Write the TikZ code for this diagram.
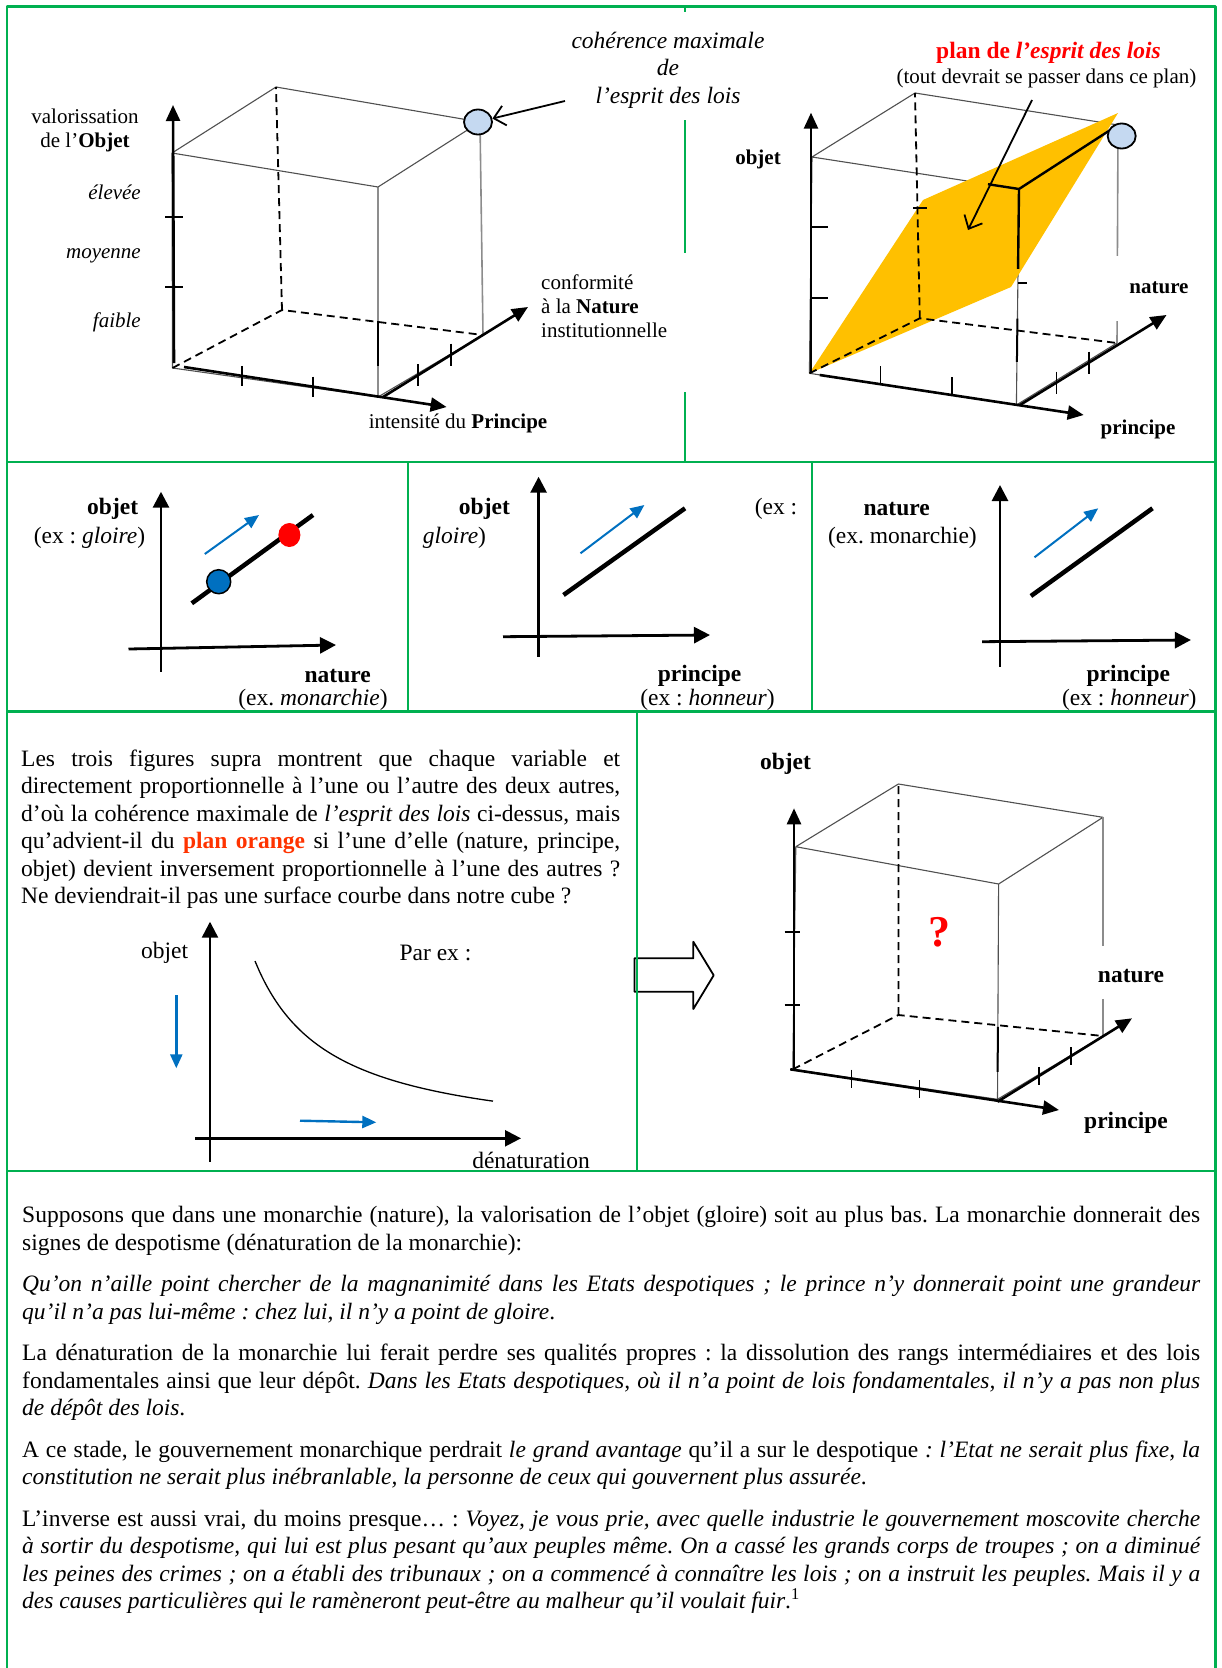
\documentclass[tikz,border=0pt]{standalone}
\usepackage{fontspec}
\setmainfont{Liberation Serif}
\usetikzlibrary{arrows.meta,calc,shapes.geometric}
\definecolor{framegreen}{HTML}{00B050}
\definecolor{planorange}{HTML}{FFC000}
\definecolor{pointblue}{HTML}{0070C0}
\definecolor{pointlight}{HTML}{C5D9F1}
\definecolor{orangered}{HTML}{FF3300}
\definecolor{edgegray}{HTML}{505050}
\newcommand\lblfont{\fontsize{21}{24}\selectfont}
\newcommand\txtfont{\fontsize{23.5}{27.5}\selectfont}
\hbadness=10000
\frenchspacing

\begin{document}
\begin{tikzpicture}[x=1pt, y=-1pt, line join=round, inner sep=0pt,
    frameline/.style={framegreen, line width=2.4pt},
    cubeedge/.style={edgegray, line width=1.1pt},
    backedge/.style={black!45, line width=1.6pt},
    hiddenedge/.style={line width=1.8pt, dash pattern=on 8pt off 5pt},
    axisline/.style={line width=2.6pt, -{Triangle[length=16pt, width=14pt]}},
    flataxis/.style={line width=2.8pt, -{Triangle[length=16pt, width=16pt]}},
    tickmark/.style={line width=1.8pt},
    pointer/.style={line width=1.8pt, -{Straight Barb[length=11pt, width=20pt]}},
    trend/.style={pointblue, line width=2pt, -{Triangle[length=14pt, width=12pt]}},
    ratioline/.style={line width=4.5pt},
    dotnode/.style={ellipse, minimum width=24pt, minimum height=24pt},
    lbl/.style={font=\lblfont, yshift=-2.5pt},
    txt/.style={font=\txtfont, yshift=-2.5pt}]
  \useasboundingbox (0,0) rectangle (1221,1668);

  % cube: objet, principe, nature
  \coordinate (pB) at (172.5,368);
  \coordinate (pC) at (378,397);
  \coordinate (pD) at (483,335);
  \coordinate (pA) at (282,310);
  \coordinate (pB') at (172,153);
  \coordinate (pC') at (378,187);
  \coordinate (pD') at (480,122);
  \coordinate (pA') at (276,87);
  \draw[cubeedge] (pB) -- (pC) -- (pD) (pB) -- (pB') (pB') -- (pC') -- (pD') -- (pA') -- cycle (pC') -- (pC);
  \draw[backedge] (pD') -- (pD);
  \draw[hiddenedge] (pB) -- (pA) -- (pD) (pA) -- (pA');
  \draw[line width=2pt] ($(pC')!0.64!(pC)$) -- ($(pC')!0.85!(pC)$);
  \draw[axisline] (174,363) coordinate (pO) -- (173,105) coordinate (pY);
  \draw[axisline] (184,367) coordinate (pX0) -- (446.6,407) coordinate (pX);
  \draw[axisline] (383,397) coordinate (pZ0) -- (528,307) coordinate (pZ);
  \draw[tickmark] (165,217) -- (183,217) (165,287) -- (183,287);
  \foreach \t in {0.22,0.49}
    \draw[tickmark] ($(pX0)!\t!(pX)$) ++(0,-10) -- ++(0,20);
  \foreach \t in {0.24,0.47}
    \draw[tickmark] ($(pZ0)!\t!(pZ)$) ++(0,-11) -- ++(0,22);
  \node[dotnode, draw, fill=pointlight, line width=1.8pt, minimum width=28pt, minimum height=25pt] (pmax) at (478,122) {};
  \node[lbl, align=center] (pobj) at (85,128) {valorissation\\de l’\textbf{Objet}};
  \node[lbl, font=\lblfont\itshape, anchor=east] (phigh) at (141,190) {élevée};
  \node[lbl, font=\lblfont\itshape, anchor=east] (pmid) at (141,253) {moyenne};
  \node[lbl, font=\lblfont\itshape, anchor=east] (plow) at (141,320) {faible};
  \node[lbl, align=left, anchor=west] (pnat) at (541,304) {conformité\\à la \textbf{Nature}\\institutionnelle};
  \node[lbl] (pprin) at (458,421) {intensité du \textbf{Principe}};
  \node[txt, font=\txtfont\itshape, align=center] (pnote) at (668,67.5) {cohérence maximale\\de\\l’esprit des lois};
  \coordinate (pcue) at (565,101);
  \draw[pointer] (pcue) -- (pmax);

  % cube with the orange plane
  \coordinate (qB) at (809.4,373.3);
  \coordinate (qC) at (1016.4,405);
  \coordinate (qD) at (1117,343);
  \coordinate (qA) at (919.8,318.3);
  \coordinate (qB') at (812,157);
  \coordinate (qC') at (1019,189);
  \coordinate (qD') at (1118,125);
  \coordinate (qA') at (915,93);
  \draw[cubeedge] (qB) -- (qC) -- (qD) (qB) -- (qB') -- (qC') (qB') -- (qA') -- (qD') (qC') -- (qC);
  \draw[backedge] (qD') -- ($(qD')!0.6!(qD)$) ($(qD')!0.9!(qD)$) -- (qD);
  \fill[planorange] (qB) -- (923,200) -- (1118,113) -- (1011,287) -- cycle;
  \draw[hiddenedge] (qB) -- (qA) -- (qD) (qA) -- (qA');
  \draw[line width=2.4pt] ($(qB')!0.85!(qC')$) -- (qC') -- (qD') (qC') -- ($(qC')!0.37!(qC)$);
  \draw[line width=2pt] ($(qC')!0.6!(qC)$) -- ($(qC')!0.8!(qC)$);
  \draw[tickmark] (913,208) -- (927,208) (1018,283) -- (1027,283);
  \draw[axisline] (811,373) coordinate (qO) -- (811,112.7) coordinate (qY);
  \draw[axisline] (819.7,375) coordinate (qX0) -- (1083.7,415) coordinate (qX);
  \draw[axisline] (1019.9,405) coordinate (qZ0) -- (1166.5,315) coordinate (qZ);
  \draw[tickmark] (811,226.7) -- (828,226.7) (811,297.7) -- (828,297.7);
  \foreach \t in {0.23,0.5}
    \draw[tickmark] ($(qX0)!\t!(qX)$) -- ++(0,-18);
  \foreach \t in {0.25,0.47}
    \draw[tickmark] ($(qZ0)!\t!(qZ)$) ++(0,-11) -- ++(0,22);
  \node[dotnode, draw, fill=pointlight, line width=1.8pt, minimum width=28pt, minimum height=25pt] (qmax) at (1121.7,136) {};
  \node[txt, font=\txtfont\bfseries, text=red] (qtitle) at (1048.5,50) {plan de \textit{l’esprit des lois}};
  \node[lbl] (qsub) at (1046.5,76) {(tout devrait se passer dans ce plan)};
  \node[lbl, font=\lblfont\bfseries] (qobj) at (758,157) {objet};
  \node[lbl, font=\lblfont\bfseries] (qnat) at (1159,285) {nature};
  \node[lbl, font=\lblfont\bfseries] (qprin) at (1138,427) {principe};
  \coordinate (qcue) at (1032,100);
  \coordinate (qaim) at (968,230);
  \draw[pointer] (qcue) -- (qaim);

  % three plane views
  \draw[flataxis] (161,671.7) coordinate (m1O) -- (161,491.7) coordinate (m1Y);
  \draw[flataxis] (128.5,649) coordinate (m1X0) -- (336,645) coordinate (m1X);
  \draw[ratioline] (191.8,603.3) coordinate (m1s) -- (313,515) coordinate (m1e);
  \node[dotnode, draw, fill=pointblue, line width=1.5pt] (m1low) at (218.7,581.7) {};
  \node[dotnode, fill=red, minimum width=22pt] (m1high) at (289.4,535) {};
  \draw[trend] (204.8,554) coordinate (m1a) -- (259,515) coordinate (m1b);
  \node[txt, font=\txtfont\bfseries] (m1obj) at (112.7,506.7) {objet};
  \node[txt] (m1ex) at (89.5,535) {(ex : \textit{gloire})};
  \node[txt, font=\txtfont\bfseries] (m1nat) at (337.7,673.3) {nature};
  \node[txt] (m1mon) at (313,697.5) {(ex. \textit{monarchie})};

  \draw[flataxis] (538.6,656.7) coordinate (m2O) -- (538.6,476.7) coordinate (m2Y);
  \draw[flataxis] (503,636.7) coordinate (m2X0) -- (710,635) coordinate (m2X);
  \draw[ratioline] (563.5,595) coordinate (m2s) -- (685,508.3) coordinate (m2e);
  \draw[trend] (580.5,553.3) coordinate (m2a) -- (644.4,505) coordinate (m2b);
  \node[txt, font=\txtfont\bfseries] (m2obj) at (484.4,506.7) {objet};
  \node[txt] (m2ex) at (454.5,535) {\textit{gloire})};
  \node[txt] (m2cut) at (776,506.7) {(ex :};
  \node[txt, font=\txtfont\bfseries] (m2prin) at (699.6,673.3) {principe};
  \node[txt] (m2hon) at (707.5,697.5) {(ex : \textit{honneur})};

  \draw[flataxis] (1000,666.7) coordinate (m3O) -- (1000,485) coordinate (m3Y);
  \draw[flataxis] (982,641.7) coordinate (m3X0) -- (1190.9,640) coordinate (m3X);
  \draw[ratioline] (1030.9,596) coordinate (m3s) -- (1152.5,508.3) coordinate (m3e);
  \draw[trend] (1034.5,557.3) coordinate (m3a) -- (1098.2,508.3) coordinate (m3b);
  \node[txt, font=\txtfont\bfseries] (m3nat) at (896.7,506.7) {nature};
  \node[txt] (m3mon) at (902.4,535) {(ex. monarchie)};
  \node[txt, font=\txtfont\bfseries] (m3prin) at (1128.3,673.3) {principe};
  \node[txt] (m3hon) at (1129.3,697.5) {(ex : \textit{honneur})};

  % question and inverse proportion
  \node[txt, anchor=base west, text width=599pt, align=justify] (query) at (21,763.5) {%
    Les trois figures supra montrent que chaque variable et\linebreak
    directement proportionnelle à l’une ou l’autre des deux autres,\linebreak
    d’où la cohérence maximale de \textit{l’esprit des lois} ci-dessus, mais\linebreak
    qu’advient-il du \textbf{\color{orangered}plan orange} si l’une d’elle (nature, principe,\linebreak
    objet) devient inversement proportionnelle à l’une des autres ?\linebreak
    Ne deviendrait-il pas une surface courbe dans notre cube ?};
  \draw[flataxis, line width=2.4pt] (210,1161.7) coordinate (hO) -- (210,921.7) coordinate (hY);
  \draw[flataxis, line width=2.4pt] (195,1138.3) coordinate (hX0) -- (521,1138.3) coordinate (hX);
  \draw[line width=1.3pt] plot[domain=255:493, samples=50, smooth] (\x,{1145.3-13822/(\x-180)});
  \draw[trend, line width=2.4pt] (176.3,995) coordinate (hda) -- (176.3,1068.3) coordinate (hdb);
  \draw[trend, line width=2.4pt] (300,1120.7) coordinate (hra) -- (376.3,1122.3) coordinate (hrb);
  \node[txt] (hobj) at (164.7,950) {objet};
  \node[txt] (hpar) at (435.5,950) {Par ex :};
  \node[txt] (hden) at (531,1158.3) {dénaturation};
  \draw[line width=1.8pt, fill=white] (634.5,958.3) -- (693.3,958.3) -- (693.3,941.7) -- (713.7,975.3)
    -- (693.3,1009) -- (693.3,991.7) -- (634.5,991.7) -- cycle;

  % cube with the question mark
  \coordinate (rB) at (792.8,1069.3);
  \coordinate (rC) at (997.5,1099.3);
  \coordinate (rD) at (1103,1036);
  \coordinate (rA) at (898.4,1015);
  \coordinate (rB') at (795.8,846.7);
  \coordinate (rC') at (998.6,884);
  \coordinate (rD') at (1103,817.3);
  \coordinate (rA') at (898.4,784);
  \draw[cubeedge] (rB) -- (rC) -- (rD) (rB) -- (rB') (rB') -- (rC') -- (rD') -- (rA') -- cycle (rC') -- (rC);
  \draw[backedge] (rD') -- ($(rD')!0.59!(rD)$) ($(rD')!0.83!(rD)$) -- (rD);
  \draw[hiddenedge] (rB) -- (rA) -- (rD) (rA) -- (rA');
  \draw[line width=2pt] ($(rC')!0.663!(rC)$) -- ($(rC')!0.872!(rC)$);
  \draw[axisline] (794,1069) coordinate (rO) -- (794,808.3) coordinate (rY);
  \draw[axisline] (790.2,1069.3) coordinate (rX0) -- (1059,1110) coordinate (rX);
  \draw[axisline] (997.5,1101.7) coordinate (rZ0) -- (1132,1018.3) coordinate (rZ);
  \draw[tickmark] (784.5,931.7) -- (800,931.7) (784.5,1005) -- (800,1005);
  \foreach \t in {0.228,0.481}
    \draw[tickmark] ($(rX0)!\t!(rX)$) ++(0,-9) -- ++(0,18);
  \foreach \t in {0.309,0.546}
    \draw[tickmark] ($(rZ0)!\t!(rZ)$) ++(0,-9) -- ++(0,18);
  \node[font=\fontsize{44}{50}\selectfont\bfseries, text=red] (rq) at (939,932) {?};
  \node[txt, font=\txtfont\bfseries] (robj) at (785.5,761.7) {objet};
  \node[txt, font=\txtfont\bfseries] (rnat) at (1131,974) {nature};
  \node[txt, font=\txtfont\bfseries] (rprin) at (1126,1120) {principe};

  % commentary
  \node[txt, anchor=base west, text width=1178pt, align=justify] (essay) at (22,1220) {%
    \setlength{\parskip}{14pt}%
    Supposons que dans une monarchie (nature), la valorisation de l’objet (gloire) soit au plus bas. La monarchie donnerait des\linebreak
    signes de despotisme (dénaturation de la monarchie):\par
    \textit{Qu’on n’aille point chercher de la magnanimité dans les Etats despotiques ; le prince n’y donnerait point une grandeur\linebreak
    qu’il n’a pas lui-même : chez lui, il n’y a point de gloire}.\par
    La dénaturation de la monarchie lui ferait perdre ses qualités propres : la dissolution des rangs intermédiaires et des lois\linebreak
    fondamentales ainsi que leur dépôt. \textit{Dans les Etats despotiques, où il n’a point de lois fondamentales, il n’y a pas non plus\linebreak
    de dépôt des lois}.\par
    A ce stade, le gouvernement monarchique perdrait \textit{le grand avantage} qu’il a sur le despotique \textit{: l’Etat ne serait plus fixe, la\linebreak
    constitution ne serait plus inébranlable, la personne de ceux qui gouvernent plus assurée}.\par
    L’inverse est aussi vrai, du moins presque… : \textit{Voyez, je vous prie, avec quelle industrie le gouvernement moscovite cherche\linebreak
    à sortir du despotisme, qui lui est plus pesant qu’aux peuples même. On a cassé les grands corps de troupes ; on a diminué\linebreak
    les peines des crimes ; on a établi des tribunaux ; on a commencé à connaître les lois ; on a instruit les peuples. Mais il y a\linebreak
    des causes particulières qui le ramèneront peut-être au malheur qu’il voulait fuir}.\textsuperscript{1}};

  % frame
  \draw[frameline] (7,1668) -- (7,6.5) -- (1215.5,6.5) -- (1215.5,1668);
  \draw[frameline] (7,462) -- (1215.5,462) (7,711.5) -- (1215.5,711.5) (7,1171) -- (1215.5,1171);
  \draw[frameline] (685,6.5) -- (685,12) (685,120) -- (685,253) (685,392) -- (685,462);
  \draw[frameline] (408,462) -- (408,711.5) (812,462) -- (812,711.5) (637,711.5) -- (637,1171);
\end{tikzpicture}
\end{document}
